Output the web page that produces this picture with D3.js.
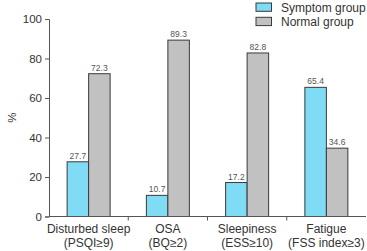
<!DOCTYPE html>
<html>
<head>
<meta charset="utf-8">
<script src="https://cdn.jsdelivr.net/npm/d3@7"></script>
<style>
  body { margin: 0; background: #fff; }
  svg { display: block; font-family: "Liberation Sans", Arial, sans-serif; }
</style>
</head>
<body>
<div id="chart-wrap"></div>
<script>
const categories = ["Disturbed sleep|(PSQI≥9)", "OSA|(BQ≥2)", "Sleepiness|(ESS≥10)", "Fatigue|(FSS index≥3)"];
const seriesNames = ["Symptom group", "Normal group"];
const symptomValues = [27.7, 10.7, 17.2, 65.4];
const normalValues = [72.3, 89.3, 82.8, 34.6];
const yTicks = [0, 20, 40, 60, 80, 100];

const width = 367;
const height = 251;
const margin = {top: 19, right: 1, bottom: 34.5, left: 49};
const colors = ["#7fdcf4", "#c1c1c1"];

const data = categories.map((c, i) => ({cat: c, values: [symptomValues[i], normalValues[i]]}));

const svg = d3.select("#chart-wrap")
  .append("svg")
  .attr("width", width)
  .attr("height", height);

const x = d3.scaleBand()
  .domain(categories)
  .range([margin.left, width - margin.right])
  .padding(0);

const x1 = d3.scaleBand()
  .domain([0, 1])
  .range([0, 43])
  .padding(0);

const y = d3.scaleLinear()
  .domain([0, 100])
  .range([height - margin.bottom, margin.top]);

// bars
const groups = svg.append("g").selectAll("g")
  .data(data)
  .join("g")
  .attr("transform", d => "translate(" + (x(d.cat) + (x.bandwidth() - 43) / 2) + ",0)");

groups.selectAll("rect")
  .data(d => d.values.map((v, k) => ({k: k, v: v})))
  .join("rect")
  .attr("x", d => x1(d.k))
  .attr("y", d => y(d.v))
  .attr("width", x1.bandwidth())
  .attr("height", d => y(0) - y(d.v))
  .attr("fill", d => colors[d.k])
  .attr("stroke", "#3a3a3a")
  .attr("stroke-width", 1);

groups.selectAll("text")
  .data(d => d.values.map((v, k) => ({k: k, v: v})))
  .join("text")
  .attr("x", d => x1(d.k) + x1.bandwidth() / 2)
  .attr("y", d => y(d.v) - 3)
  .attr("text-anchor", "middle")
  .attr("font-size", 8.5)
  .attr("fill", "#555")
  .text(d => d.v.toFixed(1));

// y axis
const yAxis = svg.append("g")
  .attr("transform", "translate(" + margin.left + ",0)")
  .call(d3.axisLeft(y).tickValues(yTicks).tickSize(4).tickPadding(3));
yAxis.select(".domain").attr("stroke", "#555");
yAxis.selectAll(".tick line").attr("stroke", "#555");
yAxis.selectAll(".tick text").attr("font-size", 11.5).attr("fill", "#333").attr("font-family", "Liberation Sans, Arial, sans-serif");

// x axis
const xAxisG = svg.append("g")
  .attr("transform", "translate(0," + y(0) + ")");
xAxisG.append("line")
  .attr("x1", margin.left).attr("x2", width - margin.right)
  .attr("stroke", "#555");
xAxisG.selectAll("line.tk")
  .data(categories.slice(1))
  .join("line")
  .attr("class", "tk")
  .attr("x1", d => x(d)).attr("x2", d => x(d))
  .attr("y1", 0).attr("y2", 4)
  .attr("stroke", "#555");

const xl = xAxisG.selectAll("text")
  .data(categories)
  .join("text")
  .attr("text-anchor", "middle")
  .attr("font-size", 12)
  .attr("fill", "#333");
xl.append("tspan")
  .attr("x", d => x(d) + x.bandwidth() / 2)
  .attr("y", 16.5)
  .text(d => d.split("|")[0]);
xl.append("tspan")
  .attr("x", d => x(d) + x.bandwidth() / 2)
  .attr("y", 30)
  .text(d => d.split("|")[1]);

// y label
svg.append("text")
  .attr("transform", "translate(16," + ((y(0) + y(100)) / 2) + ") rotate(-90)")
  .attr("text-anchor", "middle")
  .attr("font-size", 11.5)
  .attr("fill", "#333")
  .text("%");

// legend
const legend = svg.append("g").selectAll("g")
  .data(seriesNames)
  .join("g")
  .attr("transform", (d, i) => "translate(256," + (3 + i * 14.3) + ")");
legend.append("rect")
  .attr("width", 15.5)
  .attr("height", 8.3)
  .attr("fill", (d, i) => colors[i])
  .attr("stroke", "#3a3a3a");
legend.append("text")
  .attr("x", 25)
  .attr("y", 8.7)
  .attr("font-size", 12)
  .attr("fill", "#333")
  .text(d => d);
</script>
</body>
</html>
